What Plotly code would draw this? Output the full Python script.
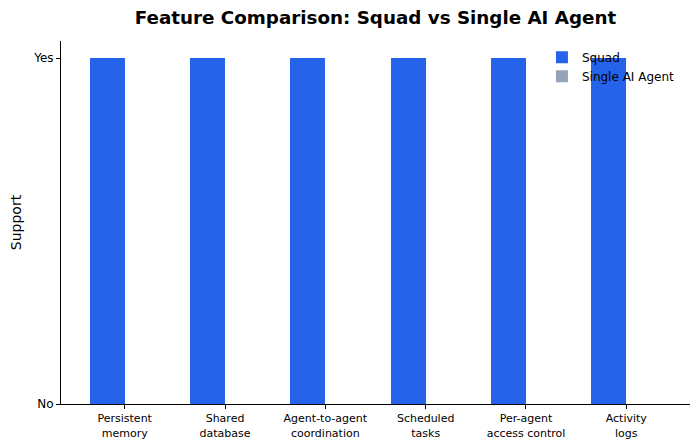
import plotly.graph_objects as go

features = ["Persistent<br>memory", "Shared<br>database", "Agent-to-agent<br>coordination",
            "Scheduled<br>tasks", "Per-agent<br>access control", "Activity<br>logs"]
squad = [1, 1, 1, 1, 1, 1]
single_agent = [0, 0, 0, 0, 0, 0]

width = 0.35
xs = list(range(len(features)))

fig = go.Figure()
fig.add_trace(go.Bar(x=[i - width / 2 for i in xs], y=squad, width=width, name="Squad",
                     marker=dict(color="#2563eb", line=dict(width=0))))
fig.add_trace(go.Bar(x=[i + width / 2 for i in xs], y=single_agent, width=width, name="Single AI Agent",
                     marker=dict(color="#94a3b8", line=dict(width=0))))

# page body has an 8px default margin, so the figure is nudged up/left
fig.update_layout(
    width=700, height=446, autosize=False,
    margin=dict(l=53, r=18, t=33, b=50),
    plot_bgcolor="white", paper_bgcolor="white",
    font=dict(family="DejaVu Sans", color="black", size=11),
    title=dict(text="<b>Feature Comparison: Squad vs Single AI Agent</b>",
               x=0.525, xanchor="center", y=0.978, yanchor="middle",
               font=dict(size=18.3, color="black")),
    showlegend=True,
    legend=dict(x=0.984, xanchor="right", y=0.995, yanchor="top",
                bgcolor="rgba(255,255,255,0)", font=dict(size=12, color="black")),
    bargap=0,
)
fig.update_xaxes(range=[-0.635, 5.635], tickvals=xs, ticktext=features, automargin=False,
                 showgrid=False, zeroline=False, showline=True, linecolor="black",
                 ticks="outside", ticklen=4, tickcolor="black",
                 tickfont=dict(size=11, color="black"))
fig.update_yaxes(range=[0, 1.05], tickvals=[0, 1], ticktext=["No", "Yes"], automargin=False,
                 showgrid=False, zeroline=False, showline=True, linecolor="black",
                 ticks="outside", ticklen=4, tickcolor="black",
                 tickfont=dict(size=12, color="black"),
                 title=dict(text="Support", font=dict(size=14, color="black"), standoff=13))

fig.write_html("out.html")
